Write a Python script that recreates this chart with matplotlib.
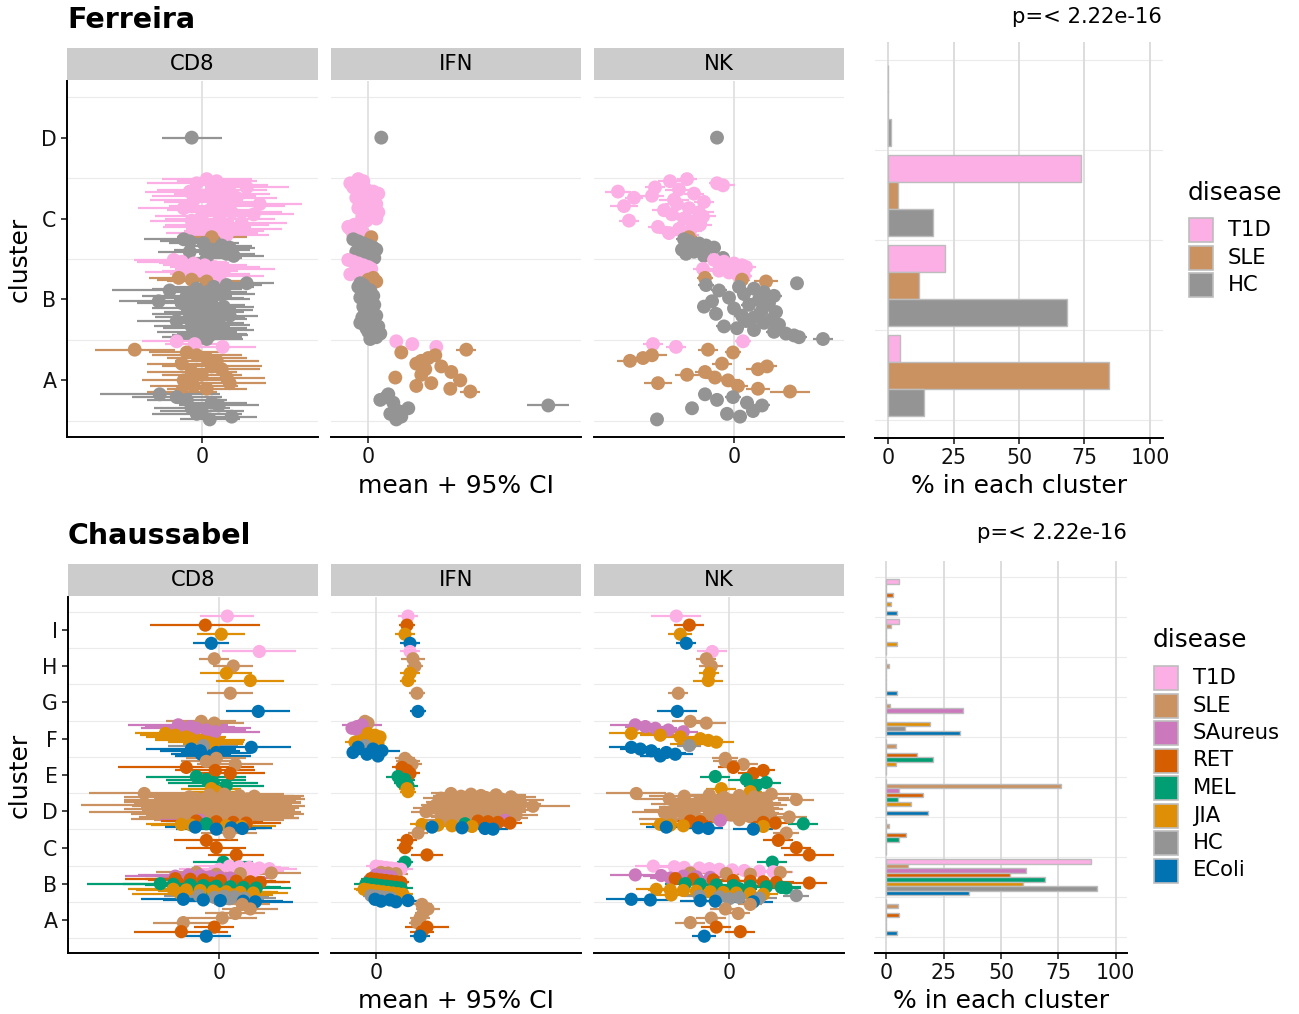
#!/usr/bin/env python3
"""cluster summary: per-sample module scores (mean + 95% CI) and share of each disease per cluster"""
import matplotlib
matplotlib.use("Agg")
import matplotlib.pyplot as plt
from matplotlib.patches import Rectangle

W, H = 1299, 1014

colors = {"T1D": "#FBAFE4", "SLE": "#CA9161", "SAureus": "#CC78BC", "RET": "#D55E00",
          "MEL": "#029E73", "JIA": "#DE8F05", "HC": "#949494", "EColi": "#0173B2"}
codes = {"T": "T1D", "S": "SLE", "A": "SAureus", "R": "RET", "M": "MEL",
         "J": "JIA", "H": "HC", "E": "EColi"}
panels = ["CD8", "IFN", "NK"]

# ---------------- Ferreira ----------------
# clusters listed top to bottom, each with the disease of its samples in plotting order
fer_clusters = ["D", "C", "B", "A"]
fer_members = ["H",
               "TTTTTTTTTTTTTTTTTTTTTTTTTTTT" "S" "HHHHHHHHHH",
               "TTTTTTTTTT" "SSS" "HHHHHHHHHHHHHHHHHHHHHHHHHHHHHHHH",
               "TTT" "SSSSSSSSSSSSSSSS" "HHHHHHHHHH"]

fer_cd8 = [-0.10,
           0.05, 0.15, -0.05, 0.28, 0.45, 0.10, -0.12, 0.20, 0.02, 0.35, -0.08, 0.12, 0.58, 0.25,
           -0.18, 0.08, 0.30, 0.52, 0.00, 0.18, -0.10, 0.40, 0.15, 0.05, 0.32, 0.22, 0.10, 0.25,
           0.10,
           -0.18, -0.12, 0.02, 0.20, 0.28, 0.10, -0.12, 0.25, 0.32, 0.05,
           -0.28, -0.20, -0.08, 0.03, 0.13, 0.23, -0.02, -0.15, 0.08, 0.18,
           -0.23, -0.10, 0.05,
           0.45, 0.25, 0.12, -0.05, -0.32, 0.05, 0.18, -0.15, 0.00, 0.10, -0.43, -0.20, 0.08, 0.22,
           -0.08, 0.15, 0.02, -0.12, 0.28, -0.02, 0.12, -0.25, 0.06, 0.18, -0.10, 0.03, 0.20, -0.05,
           0.10, 0.08, 0.00, 0.05,
           -0.25, -0.07, 0.21,
           -0.67, -0.15, -0.05, 0.05, 0.15, -0.20, 0.10, 0.20, -0.10, 0.00, 0.25, -0.18, 0.28, -0.08,
           0.05, -0.20,
           -0.42, -0.25, -0.15, 0.10, 0.17, -0.10, 0.00, -0.05, 0.30, 0.08]
fer_cd8_ci = [0.30,
              0.45, 0.40, 0.50, 0.38, 0.42, 0.55, 0.45, 0.48, 0.52, 0.40, 0.44, 0.50, 0.42, 0.58,
              0.46, 0.43, 0.50, 0.40, 0.47, 0.55, 0.42, 0.45, 0.52, 0.44, 0.48, 0.40, 0.46, 0.42,
              0.35,
              0.40, 0.30, 0.35, 0.30, 0.25, 0.38, 0.32, 0.28, 0.30, 0.35,
              0.40, 0.45, 0.35, 0.42, 0.45, 0.50, 0.38, 0.42, 0.40, 0.44,
              0.30, 0.35, 0.40,
              0.27, 0.35, 0.40, 0.45, 0.58, 0.40, 0.35, 0.45, 0.42, 0.38, 0.40, 0.45, 0.35, 0.30,
              0.42, 0.36, 0.40, 0.38, 0.28, 0.45, 0.33, 0.40, 0.36, 0.30, 0.38, 0.42, 0.32, 0.40,
              0.35, 0.38, 0.40, 0.36,
              0.35, 0.30, 0.33,
              0.40, 0.38, 0.45, 0.40, 0.42, 0.35, 0.50, 0.38, 0.45, 0.40, 0.38, 0.42, 0.36, 0.44,
              0.40, 0.35,
              0.60, 0.45, 0.40, 0.35, 0.40, 0.38, 0.42, 0.45, 0.25, 0.30]
fer_ifn = [0.13,
           -0.10, -0.05, -0.18, -0.12, -0.15, -0.02, 0.05, 0.10, -0.08, -0.12, -0.05, 0.02, 0.08,
           -0.03, -0.10, 0.05, 0.10, 0.00, -0.06, 0.08, -0.02, -0.08, -0.14, -0.20, -0.18, -0.12,
           -0.05, -0.15,
           0.03,
           -0.15, -0.10, -0.05, 0.00, 0.05, 0.08, -0.12, -0.03, 0.02, 0.06,
           -0.20, -0.15, -0.10, -0.05, 0.00, 0.03, -0.12, -0.08, -0.18, -0.02,
           0.05, 0.00, 0.08,
           -0.08, -0.05, -0.10, -0.02, 0.02, -0.06, 0.00, 0.05, -0.08, -0.04, 0.03, -0.02, 0.06,
           -0.05, 0.00, 0.04, -0.03, 0.02, 0.08, -0.06, 0.00, 0.05, -0.08, 0.03, 0.10, -0.02, 0.06,
           0.00, 0.12, 0.04, 0.08, 0.02,
           0.28, 0.44, 0.68,
           0.98, 0.33, 0.67, 0.60, 0.53, 0.48, 0.73, 0.57, 0.83, 0.53, 0.27, 0.92, 0.63, 0.48,
           0.82, 1.02,
           0.20, 0.18, 0.12, 0.25, 1.80, 0.40, 0.30, 0.22, 0.33, 0.28]
fer_ifn_ci = [0.02,
              0.03, 0.02, 0.04, 0.03, 0.03, 0.02, 0.04, 0.05, 0.03, 0.02, 0.03, 0.04, 0.05, 0.03,
              0.02, 0.04, 0.05, 0.03, 0.03, 0.04, 0.02, 0.03, 0.04, 0.03, 0.02, 0.03, 0.04, 0.03,
              0.03,
              0.03, 0.02, 0.03, 0.02, 0.03, 0.04, 0.02, 0.03, 0.02, 0.03,
              0.03, 0.02, 0.03, 0.04, 0.02, 0.03, 0.02, 0.03, 0.02, 0.03,
              0.03, 0.02, 0.04,
              0.02, 0.03, 0.02, 0.02, 0.03, 0.02, 0.02, 0.03, 0.02, 0.02, 0.03, 0.02, 0.02, 0.03,
              0.02, 0.02, 0.03, 0.02, 0.02, 0.03, 0.02, 0.02, 0.03, 0.02, 0.02, 0.03, 0.02, 0.02,
              0.03, 0.02, 0.02, 0.03,
              0.04, 0.05, 0.04,
              0.10, 0.04, 0.05, 0.04, 0.05, 0.04, 0.06, 0.05, 0.06, 0.04, 0.03, 0.07, 0.05, 0.04,
              0.06, 0.10,
              0.03, 0.03, 0.03, 0.04, 0.21, 0.04, 0.03, 0.03, 0.04, 0.03]
fer_nk = [-0.17,
          -0.47, -0.64, -0.17, -0.11, -0.79, -0.55, -1.16, -0.40, -0.82, -1.00, -0.60, -0.30, -0.57,
          -1.10, -0.45, -0.70, -0.35, -0.62, -0.31, -0.50, -1.05, -0.42, -0.34, -0.76, -0.55, -0.44,
          -0.65, -0.48,
          -0.45,
          -0.50, -0.45, -0.35, -0.28, -0.20, -0.52, -0.40, -0.48, -0.30, -0.11,
          -0.20, -0.10, 0.00, 0.08, 0.12, -0.31, -0.15, -0.05, 0.03, 0.10,
          -0.29, 0.08, 0.32,
          0.63, -0.28, 0.05, 0.20, -0.15, 0.30, 0.10, 0.40, -0.05, 0.25, -0.22, 0.35, 0.15, -0.30,
          0.00, 0.28, 0.42, -0.18, 0.08, 0.20, 0.38, 0.12, 0.30, 0.45, -0.10, 0.03, 0.20, 0.40,
          0.52, 0.60, 0.65, 0.89,
          0.09, -0.81, -0.58,
          -0.26, -0.01, -0.82, -0.91, -1.04, -0.12, 0.33, 0.24, -0.29, -0.47, -0.19, -0.06, -0.76,
          0.04, 0.24, 0.56,
          -0.29, -0.01, -0.17, 0.13, 0.28, -0.42, 0.19, -0.07, 0.06, -0.77]
fer_nk_ci = [0.03,
             0.10, 0.12, 0.08, 0.12, 0.10, 0.14, 0.13, 0.10, 0.12, 0.09, 0.15, 0.10, 0.12, 0.14,
             0.10, 0.12, 0.15, 0.10, 0.13, 0.12, 0.10, 0.15, 0.12, 0.10, 0.14, 0.12, 0.10, 0.13,
             0.08,
             0.08, 0.07, 0.06, 0.08, 0.07, 0.06, 0.08, 0.07, 0.06, 0.05,
             0.10, 0.12, 0.10, 0.08, 0.10, 0.10, 0.12, 0.09, 0.10, 0.08,
             0.08, 0.08, 0.12,
             0.06, 0.08, 0.06, 0.07, 0.08, 0.06, 0.07, 0.08, 0.06, 0.10, 0.07, 0.06, 0.08, 0.07,
             0.06, 0.08, 0.07, 0.06, 0.08, 0.07, 0.06, 0.08, 0.07, 0.06, 0.08, 0.07, 0.06, 0.08,
             0.07, 0.06, 0.08, 0.10,
             0.08, 0.10, 0.10,
             0.10, 0.08, 0.15, 0.12, 0.13, 0.10, 0.10, 0.12, 0.10, 0.12, 0.10, 0.12, 0.14, 0.10,
             0.12, 0.20,
             0.07, 0.08, 0.06, 0.07, 0.08, 0.06, 0.07, 0.06, 0.07, 0.05]

# % of each disease's samples falling in each cluster (D, C, B, A)
fer_diseases = ["T1D", "SLE", "HC"]
fer_pct_T1D = [0.0, 73.5, 21.9, 4.5]
fer_pct_SLE = [0.0, 3.6, 11.8, 84.2]
fer_pct_HC = [1.2, 17.0, 68.2, 13.6]

# ---------------- Chaussabel ----------------
cha_clusters = ["I", "H", "G", "F", "E", "D", "C", "B", "A"]
cha_members = ["TRJE",
               "TSSJJ",
               "SE",
               "SS" "AAAAA" "JJJJJJJ" "H" "EEEEEE",
               "SSS" "RRR" "MMMM" "JJ",
               "SSSSSSSSSSSSSSSSSSSSSSSSSSSSSSSSSSSSSSSS" "A" "RRRR" "M" "JJJJ" "EEEE",
               "S" "RRR" "M",
               "TTTTTTTTTT" "SSSS" "AAAAAA" "RRRRRRRR" "MMMMMMMMM" "JJJJJJJJJJ" "HHHHHH" "EEEEE",
               "SSSSS" "RR" "E"]

cha_cd8 = [0.08, -0.14, 0.02, -0.08,
           0.40, -0.05, 0.14, 0.07, 0.31,
           0.11, 0.39,
           -0.18, -0.05, -0.41, -0.29, -0.23, -0.13, -0.04, -0.54, -0.44, -0.33, -0.29, -0.19,
           -0.13, -0.06, -0.16, 0.32, -0.28, -0.19, -0.03, -0.18, -0.06,
           -0.03, -0.13, 0.16, -0.33, -0.04, 0.11, -0.23, -0.13, -0.06, 0.07, -0.08, -0.03,
           -0.75, 0.05, -0.10, 0.20, 0.35, -0.30, 0.10, -0.05, 0.28, -0.20, 0.15, 0.00, -0.40, 0.30,
           0.22, -0.15, 0.08, -0.63, 0.38, -0.25, 0.12, -0.08, 0.25, -0.35, 0.18, 0.02, -0.12, 0.32,
           -0.60, 0.06, -0.22, 0.40, 0.14, -0.05, 0.20, -0.18, 0.10, 0.28, -0.28, 0.00,
           -0.19, -0.23, -0.03, 0.14, 0.27, -0.13, -0.38, -0.28, 0.07, 0.22, -0.24, 0.12, 0.23, -0.03,
           0.10, -0.13, -0.03, 0.17, 0.04,
           0.10, 0.20, 0.30, 0.40, 0.50, 0.00, 0.15, 0.35, 0.25, -0.05,
           -0.23, 0.52, 0.21, -0.03,
           -0.31, -0.19, -0.44, -0.09, 0.01, 0.11,
           -0.44, -0.29, -0.16, 0.01, 0.17, 0.31, 0.41, -0.08,
           -0.59, -0.46, -0.29, -0.16, -0.03, 0.11, 0.24, 0.37, -0.09,
           -0.46, -0.33, -0.19, -0.06, 0.07, 0.21, 0.34, -0.39, 0.01, 0.14,
           -0.20, 0.05, 0.15, -0.05, 0.25, 0.10,
           -0.36, -0.16, 0.01, 0.24, 0.36,
           0.23, 0.31, 0.16, 0.03, -0.36, -0.05, -0.38, -0.13]
cha_cd8_ci = [0.27, 0.55, 0.24, 0.18,
              0.37, 0.15, 0.20, 0.26, 0.34,
              0.23, 0.32,
              0.35, 0.30, 0.50, 0.45, 0.55, 0.40, 0.45, 0.30, 0.35, 0.40, 0.35, 0.45, 0.38, 0.30,
              0.35, 0.40, 0.45, 0.40, 0.35, 0.30, 0.38,
              0.30, 0.25, 0.38, 0.68, 0.40, 0.35, 0.50, 0.40, 0.45, 0.38, 0.30, 0.28,
              0.55, 0.60, 0.70, 0.55, 0.50, 0.65, 0.72, 0.60, 0.58, 0.75, 0.62, 0.68, 0.55, 0.52,
              0.60, 0.70, 0.65, 0.75, 0.48, 0.62, 0.68, 0.70, 0.55, 0.60, 0.58, 0.72, 0.65, 0.50,
              0.70, 0.62, 0.66, 0.45, 0.60, 0.68, 0.55, 0.62, 0.70, 0.52, 0.60, 0.65,
              0.40, 0.35, 0.40, 0.30, 0.35, 0.40, 0.35, 0.40, 0.30, 0.35, 0.30, 0.35, 0.30, 0.40,
              0.28, 0.32, 0.30, 0.28, 0.30,
              0.35, 0.30, 0.32, 0.30, 0.28, 0.40, 0.35, 0.30, 0.38, 0.42,
              0.40, 0.30, 0.35, 0.40,
              0.50, 0.45, 0.50, 0.48, 0.45, 0.40,
              0.50, 0.45, 0.55, 0.42, 0.40, 0.35, 0.30, 0.45,
              0.73, 0.50, 0.45, 0.42, 0.48, 0.40, 0.38, 0.35, 0.45,
              0.45, 0.50, 0.42, 0.40, 0.45, 0.38, 0.35, 0.48, 0.42, 0.40,
              0.35, 0.30, 0.35, 0.30, 0.32, 0.35,
              0.42, 0.40, 0.35, 0.40, 0.38,
              0.28, 0.28, 0.30, 0.35, 0.30, 0.20, 0.47, 0.25]
cha_ifn = [0.32, 0.31, 0.29, 0.34,
           0.34, 0.37, 0.39, 0.34, 0.32,
           0.41, 0.42,
           -0.11, -0.08, -0.14, -0.19, -0.24, -0.18, -0.11, -0.08, -0.01, 0.04, -0.04, -0.14,
           -0.21, 0.02, -0.11, -0.18, -0.03, 0.06, -0.23, -0.09, 0.02,
           0.29, 0.32, 0.36, 0.26, 0.31, 0.34, 0.22, 0.29, 0.26, 0.32, 0.31, 0.32,
           0.75, 0.95, 1.20, 1.05, 0.85, 1.35, 1.10, 0.65, 1.25, 0.90, 1.40, 1.00, 0.70, 1.15,
           1.30, 0.80, 1.45, 0.60, 1.05, 1.57, 0.95, 1.20, 0.55, 1.10, 1.35, 0.85, 1.00, 0.50,
           1.25, 0.75, 1.15, 0.90, 1.40, 0.65, 1.05, 0.80, 1.30, 0.95, 1.20, 0.70,
           1.29, 1.02, 1.12, 1.22, 1.34, 0.89, 0.46, 0.62, 0.76, 0.96, 0.56, 0.86, 1.09, 1.17,
           0.42, 0.31, 0.29, 0.51, 0.29,
           0.00, 0.05, 0.10, 0.15, 0.20, 0.25, 0.08, 0.12, 0.18, 0.03,
           0.05, 0.12, 0.20, 0.10,
           0.00, 0.05, 0.10, 0.15, -0.02, 0.08,
           -0.05, 0.00, 0.05, 0.10, 0.15, 0.20, 0.25, 0.08,
           -0.10, -0.05, 0.00, 0.05, 0.10, 0.15, 0.20, 0.25, 0.12,
           -0.12, -0.08, -0.03, 0.02, 0.07, 0.12, 0.17, 0.22, 0.27, 0.05,
           -0.05, 0.00, 0.05, 0.10, 0.15, 0.02,
           -0.01, 0.14, 0.32, 0.05, 0.20,
           0.46, 0.52, 0.47, 0.44, 0.41, 0.51, 0.46, 0.44]
cha_ifn_ci = [0.10, 0.08, 0.10, 0.10,
              0.10, 0.12, 0.08, 0.10, 0.08,
              0.08, 0.08,
              0.08, 0.06, 0.20, 0.08, 0.06, 0.08, 0.06, 0.06, 0.08, 0.06, 0.06, 0.08, 0.10, 0.06,
              0.06, 0.08, 0.06, 0.18, 0.06, 0.08, 0.06,
              0.10, 0.12, 0.10, 0.10, 0.08, 0.10, 0.12, 0.10, 0.08, 0.10, 0.08, 0.08,
              0.20, 0.25, 0.30, 0.22, 0.28, 0.25, 0.30, 0.18, 0.25, 0.22, 0.28, 0.30, 0.20, 0.25,
              0.22, 0.28, 0.20, 0.15, 0.30, 0.37, 0.25, 0.22, 0.18, 0.28, 0.25, 0.22, 0.30, 0.15,
              0.25, 0.20, 0.28, 0.25, 0.22, 0.18, 0.30, 0.25, 0.22, 0.28, 0.25, 0.20,
              0.15, 0.15, 0.12, 0.15, 0.12, 0.12, 0.12, 0.15, 0.12, 0.15, 0.12, 0.15, 0.12, 0.15,
              0.10, 0.10, 0.08, 0.16, 0.08,
              0.10, 0.08, 0.10, 0.12, 0.10, 0.12, 0.08, 0.10, 0.10, 0.08,
              0.08, 0.10, 0.12, 0.08,
              0.08, 0.10, 0.12, 0.08, 0.10, 0.08,
              0.10, 0.08, 0.10, 0.12, 0.08, 0.10, 0.08, 0.10,
              0.12, 0.10, 0.08, 0.10, 0.12, 0.08, 0.10, 0.12, 0.08,
              0.10, 0.12, 0.08, 0.10, 0.12, 0.08, 0.10, 0.12, 0.10, 0.08,
              0.08, 0.10, 0.08, 0.10, 0.08, 0.10,
              0.08, 0.10, 0.17, 0.08, 0.10,
              0.10, 0.12, 0.08, 0.10, 0.08, 0.22, 0.12, 0.10]
cha_nk = [-0.53, -0.40, -0.49, -0.43,
          -0.17, -0.23, -0.18, -0.20, -0.21,
          -0.51, -0.52,
          -0.39, -0.23, -0.94, -0.84, -0.74, -0.61, -0.46, -0.98, -0.69, -0.49, -0.29, -0.21,
          -0.13, -0.39, -0.40, -0.98, -0.89, -0.78, -0.63, -0.54, -0.69,
          -0.04, -0.04, 0.14, 0.04, 0.34, 0.24, -0.14, 0.17, 0.37, 0.27, -0.08, 0.21,
          -0.93, 0.42, -0.20, 0.10, -0.45, 0.25, -0.05, 0.35, -0.60, 0.67, 0.00, -0.30, 0.18, -0.15,
          0.30, -0.50, 0.05, 0.38, -0.25, 0.12, -0.40, 0.22, -0.10, 0.32, -0.55, 0.08, -0.35, 0.15,
          -0.65, 0.28, -0.20, 0.40, 0.02, -0.45, 0.20, 0.60, -0.12, 0.35, -0.58, 0.10,
          -0.09, -0.39, -0.29, 0.34, 0.46, 0.74, -0.69, -0.59, -0.46, 0.34, -0.63, -0.31, -0.21, 0.24,
          0.57, 0.49, 0.67, 0.80, 0.43,
          -0.76, -0.55, -0.45, -0.30, -0.20, -0.10, 0.03, 0.15, 0.30, 0.44,
          0.51, -0.39, -0.03, 0.21,
          -0.94, -0.68, -0.46, -0.33, -0.19, -0.59,
          -0.54, -0.36, -0.16, 0.04, 0.21, 0.34, 0.47, 0.80,
          -0.44, -0.29, -0.13, 0.04, 0.21, 0.37, 0.52, 0.57, 0.10,
          -0.73, -0.59, -0.46, -0.33, -0.19, -0.06, 0.07, 0.21, 0.34, -0.58,
          0.67, -0.30, -0.10, 0.10, 0.30, 0.00,
          -0.98, -0.79, -0.29, -0.14, 0.24,
          0.21, -0.04, 0.09, -0.18, -0.39, -0.13, 0.11, -0.25]
cha_nk_ci = [0.25, 0.15, 0.12, 0.10,
             0.15, 0.10, 0.12, 0.10, 0.15,
             0.10, 0.20,
             0.18, 0.20, 0.25, 0.20, 0.22, 0.20, 0.15, 0.22, 0.20, 0.18, 0.20, 0.15, 0.18, 0.20,
             0.12, 0.22, 0.20, 0.25, 0.20, 0.18, 0.20,
             0.13, 0.12, 0.15, 0.15, 0.12, 0.15, 0.15, 0.18, 0.15, 0.12, 0.15, 0.12,
             0.30, 0.25, 0.30, 0.28, 0.35, 0.22, 0.30, 0.25, 0.32, 0.18, 0.28, 0.30, 0.25, 0.32,
             0.22, 0.28, 0.30, 0.20, 0.32, 0.25, 0.30, 0.28, 0.32, 0.22, 0.30, 0.28, 0.25, 0.30,
             0.32, 0.22, 0.28, 0.20, 0.30, 0.25, 0.28, 0.18, 0.30, 0.25, 0.32, 0.28,
             0.20, 0.18, 0.20, 0.15, 0.18, 0.15, 0.20, 0.18, 0.20, 0.15, 0.20, 0.18, 0.15, 0.20,
             0.13, 0.15, 0.15, 0.25, 0.15,
             0.18, 0.15, 0.18, 0.15, 0.20, 0.18, 0.15, 0.20, 0.18, 0.20,
             0.12, 0.15, 0.18, 0.15,
             0.25, 0.18, 0.20, 0.15, 0.18, 0.20,
             0.18, 0.20, 0.15, 0.18, 0.20, 0.15, 0.18, 0.18,
             0.20, 0.18, 0.15, 0.20, 0.18, 0.15, 0.20, 0.15, 0.18,
             0.20, 0.22, 0.18, 0.20, 0.15, 0.18, 0.20, 0.18, 0.15, 0.20,
             0.13, 0.15, 0.18, 0.15, 0.18, 0.15,
             0.25, 0.22, 0.20, 0.18, 0.20,
             0.12, 0.15, 0.12, 0.15, 0.15, 0.15, 0.15, 0.12]

# % of each disease's samples in each cluster (I ... A)
cha_diseases = ["T1D", "SLE", "SAureus", "RET", "MEL", "JIA", "HC", "EColi"]
cha_pct_T1D = [5.4, 5.4, 0, 0, 0, 0, 0, 89.2, 0]
cha_pct_SLE = [0, 2.0, 1.0, 1.5, 4.0, 76.0, 1.0, 9.5, 5.0]
cha_pct_SAureus = [0, 0, 0, 33.3, 0, 5.5, 0, 61.0, 0]
cha_pct_RET = [2.9, 0, 0, 0, 13.5, 16.0, 8.5, 54.0, 5.5]
cha_pct_MEL = [0, 0, 0, 0, 20.5, 5.0, 5.3, 69.0, 0]
cha_pct_JIA = [2.2, 4.4, 0, 19.0, 4.0, 10.5, 0, 59.5, 0]
cha_pct_HC = [0, 0, 0, 8.0, 0, 0, 0, 92.0, 0]
cha_pct_EColi = [4.6, 0, 4.6, 32.0, 0, 18.0, 0, 36.0, 4.6]

pval = "p=< 2.22e-16"


def box(x0, y0, x1, y1):
    """pixel box (top-left origin) -> figure fraction rect"""
    return [x0 / W, 1 - y1 / H, (x1 - x0) / W, (y1 - y0) / H]


def sample_rows(clusters, members):
    """vertical position of every sample: spread evenly inside its cluster band"""
    ys, dis = [], []
    for j, group in enumerate(members):
        level = len(clusters) - j
        n = len(group)
        for i, c in enumerate(group):
            ys.append(level + 0.5 - (i + 0.5) / n)
            dis.append(codes[c])
    return ys, dis


def facet_row(fig, ov, clusters, members, values, errors, facet_x, zeros, y0, y1, ylim, msize):
    ys, dis = sample_rows(clusters, members)
    cols = [colors[d] for d in dis]
    n_cl = len(clusters)
    for k, name in enumerate(panels):
        x0, x1 = facet_x[k]
        ax = fig.add_axes(box(x0, y0, x1, y1))
        xv, ev = values[k], errors[k]
        assert len(xv) == len(ys) == len(ev), (name, len(xv), len(ev), len(ys))
        for g in range(n_cl + 1):
            ax.axhline(g + 0.5, color="#EBEBEB", lw=0.8, zorder=0)
        ax.axvline(0, color="#DEDEDE", lw=1.2, zorder=0)
        ax.hlines(ys, [x - e for x, e in zip(xv, ev)], [x + e for x, e in zip(xv, ev)],
                  colors=cols, lw=1.6, zorder=2)
        ax.scatter(xv, ys, s=msize ** 2, c=cols, linewidths=0, zorder=3)
        ax.set_xlim((x0 - zeros[k]) / 100, (x1 - zeros[k]) / 100)
        ax.set_ylim(*ylim)
        for s in ["top", "right"]:
            ax.spines[s].set_visible(False)
        ax.spines["bottom"].set_linewidth(1.4)
        ax.set_xticks([0])
        ax.set_xticklabels(["0"])
        ax.set_yticks(range(1, n_cl + 1))
        if k == 0:
            ax.spines["left"].set_linewidth(1.4)
            ax.set_yticklabels(clusters[::-1])
        else:
            ax.spines["left"].set_visible(False)
            ax.tick_params(axis="y", left=False, labelleft=False)
        ax.tick_params(length=4.5, width=1.1, labelsize=14.8, pad=3, colors="#111111")
        ax.set_facecolor("none")
        # strip on top of the panel
        ov.add_patch(Rectangle((x0, y0 - 33), x1 - x0, 32, fc="#CCCCCC", ec="none"))
        ov.text((x0 + x1) / 2, y0 - 16.5, name, ha="center", va="center", fontsize=15.2)


def bar_panel(fig, bx, clusters, diseases, pcts, ylim):
    ax = fig.add_axes(box(*bx))
    n_cl = len(clusters)
    w = 0.9 / len(diseases)
    levels = [n_cl - j for j in range(n_cl)]
    for g in range(n_cl + 1):
        ax.axhline(g + 0.5, color="#EBEBEB", lw=0.8, zorder=0)
    for d, name in enumerate(diseases):
        ax.barh([lv + 0.45 - (d + 0.5) * w for lv in levels], pcts[d], height=w,
                color=colors[name], edgecolor="#BDBDBD", linewidth=1.0, zorder=2)
    ax.set_xlim(-5, 105)
    ax.set_ylim(*ylim)
    ax.set_xticks([0, 25, 50, 75, 100])
    ax.grid(axis="x", color="#DADADA", lw=1.3, zorder=0)
    ax.set_axisbelow(True)
    ax.set_yticks([])
    for s in ["top", "right", "left"]:
        ax.spines[s].set_visible(False)
    ax.spines["bottom"].set_linewidth(1.4)
    ax.tick_params(axis="x", length=4.5, width=1.1, labelsize=14.8, pad=3, colors="#111111")
    ax.set_facecolor("none")


def legend(ov, x, y_title, y_first, diseases):
    ov.text(x, y_title, "disease", ha="left", va="center", fontsize=17.8)
    for i, name in enumerate(diseases):
        yc = y_first + i * 27.5
        ov.add_patch(Rectangle((x + 1, yc - 12), 24, 24, fc=colors[name], ec="#BDBDBD", lw=1.2))
        ov.text(x + 40, yc, name, ha="left", va="center", fontsize=15.2)


fig = plt.figure(figsize=(W / 100, H / 100), dpi=100)
ov = fig.add_axes([0, 0, 1, 1])
ov.set_xlim(0, W)
ov.set_ylim(H, 0)
ov.axis("off")

# top row: Ferreira
facet_row(fig, ov, fer_clusters, fer_members,
          [fer_cd8, fer_ifn, fer_nk], [fer_cd8_ci, fer_ifn_ci, fer_nk_ci],
          [(67, 318), (331, 581), (594, 844)], [201.7, 368.3, 734.0],
          81, 437, (0.3, 4.7), 10.0)
bar_panel(fig, (875, 42, 1163, 438), fer_clusters, fer_diseases,
          [fer_pct_T1D, fer_pct_SLE, fer_pct_HC], (0.3, 4.7))
legend(ov, 1188, 193, 230, fer_diseases)
ov.text(67, 20, "Ferreira", ha="left", va="center", fontsize=20.5, fontweight="bold")
ov.text(1162, 17, pval, ha="right", va="center", fontsize=15.2)
ov.text(20, 259, "cluster", rotation=90, ha="center", va="center", fontsize=18)
ov.text(456, 486, "mean + 95% CI", ha="center", va="center", fontsize=18)
ov.text(1019, 486, "% in each cluster", ha="center", va="center", fontsize=18)

# bottom row: Chaussabel
facet_row(fig, ov, cha_clusters, cha_members,
          [cha_cd8, cha_ifn, cha_nk], [cha_cd8_ci, cha_ifn_ci, cha_nk_ci],
          [(68, 318), (331, 581), (594, 844)], [219.3, 376.0, 729.3],
          597, 953, (0.1, 9.9), 9.5)
bar_panel(fig, (875, 561, 1127, 953), cha_clusters, cha_diseases,
          [cha_pct_T1D, cha_pct_SLE, cha_pct_SAureus, cha_pct_RET, cha_pct_MEL,
           cha_pct_JIA, cha_pct_HC, cha_pct_EColi], (0.1, 9.9))
legend(ov, 1153, 640, 678, cha_diseases)
ov.text(68, 536, "Chaussabel", ha="left", va="center", fontsize=20.5, fontweight="bold")
ov.text(1127, 533, pval, ha="right", va="center", fontsize=15.2)
ov.text(20, 775, "cluster", rotation=90, ha="center", va="center", fontsize=18)
ov.text(456, 1001, "mean + 95% CI", ha="center", va="center", fontsize=18)
ov.text(1001, 1001, "% in each cluster", ha="center", va="center", fontsize=18)

fig.savefig("out.png", dpi=100)
